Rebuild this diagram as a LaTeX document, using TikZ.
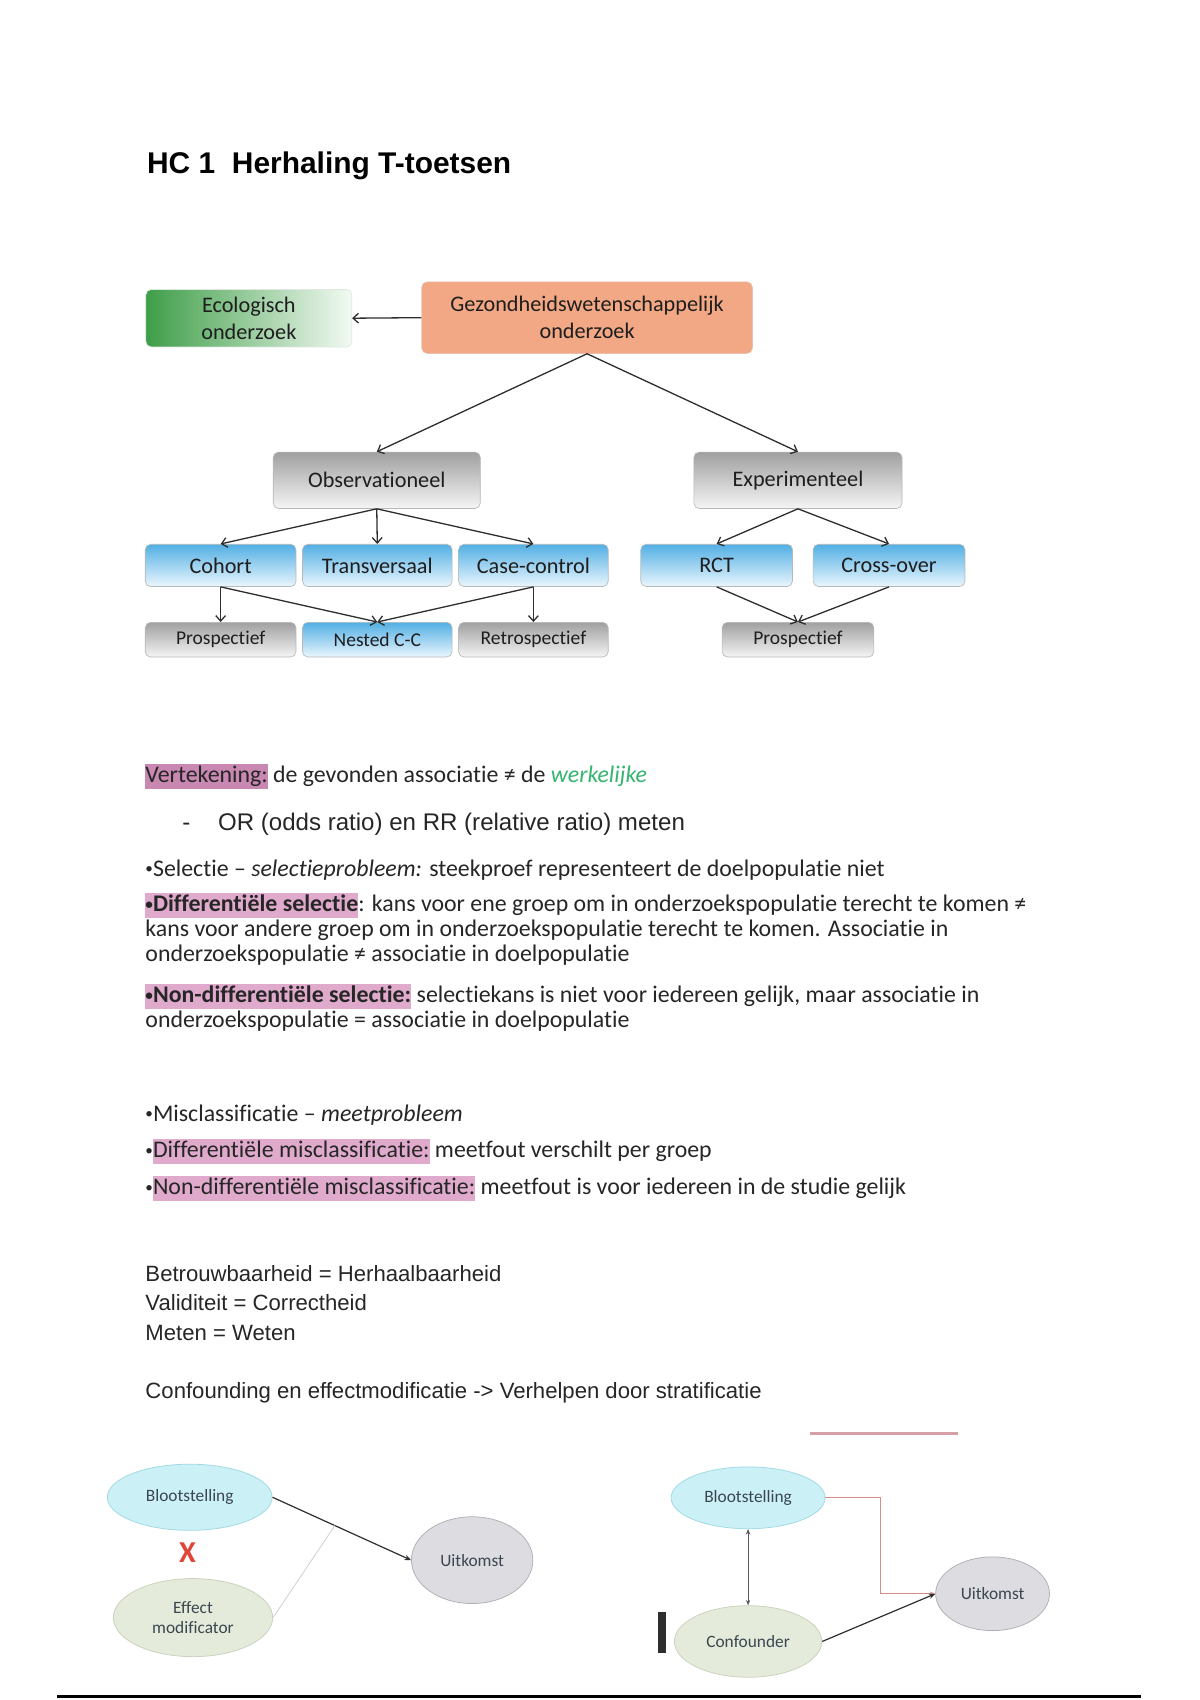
\documentclass[tikz,border=0pt]{standalone}
\usepackage{fontspec}
\setmainfont{Carlito}[Ligatures=NoCommon]
\newfontfamily\arialf{Liberation Sans}
\usetikzlibrary{arrows.meta,shapes.geometric}
\definecolor{txtc}{HTML}{262626}
\definecolor{boxtext}{HTML}{1E1E1E}
\definecolor{boxborder}{HTML}{B8B8B8}
\definecolor{greenL}{HTML}{3E9E48}
\definecolor{greenR}{HTML}{F3FAF3}
\definecolor{salmon}{HTML}{F3A885}
\definecolor{grayTop}{HTML}{A0A0A0}
\definecolor{grayBot}{HTML}{F5F5F5}
\definecolor{blueTop}{HTML}{52AFE4}
\definecolor{blueBot}{HTML}{EAF6FD}
\definecolor{arrowc}{HTML}{2E2E2E}
\definecolor{hlAc}{HTML}{C988B2}
\definecolor{hlBc}{HTML}{DFAACB}
\definecolor{grn}{HTML}{35B56F}
\definecolor{pinkline}{HTML}{D7A0A8}
\definecolor{xred}{HTML}{E0453A}
\definecolor{bfill}{HTML}{CBF1F6}
\definecolor{bdraw}{HTML}{9FD9E3}
\definecolor{gfill}{HTML}{E5EBDA}
\definecolor{gdraw}{HTML}{C9D2BD}
\definecolor{ufill}{HTML}{DDDDE1}
\definecolor{udraw}{HTML}{AFAFB6}
\definecolor{elltext}{HTML}{3A4651}
\definecolor{redc}{HTML}{D98A8A}
\definecolor{lightline}{HTML}{D2D2D2}
\newcommand\hlA[1]{{\setlength{\fboxsep}{0pt}\colorbox{hlAc}{\vrule height 17.5pt depth 5.5pt width 0pt#1}}}
\newcommand\hlB[1]{{\setlength{\fboxsep}{0pt}\colorbox{hlBc}{\vrule height 17.5pt depth 5.5pt width 0pt#1}}}
\newcommand\smbul{\raisebox{2pt}{\fontsize{14}{14}\selectfont •}}
\begin{document}
\begin{tikzpicture}[x=1pt,y=-1pt,
  box/.style={draw=boxborder, line width=0.6pt, rounded corners=5pt, align=center, inner sep=0pt, text=boxtext, font=\fontsize{20.5}{25}\selectfont},
  graybox/.style={box, top color=grayTop, bottom color=grayBot},
  bluebox/.style={box, top color=blueTop, bottom color=blueBot},
  lowtxt/.style={font=\fontsize{18}{20}\selectfont, minimum height=32pt},
  midtxt/.style={minimum height=39pt},
  conn/.style={draw=arrowc, line width=1.2pt, -{Straight Barb[length=5pt,width=9pt]}},
  txt/.style={anchor=base west, inner sep=0pt, text=txtc, font=\fontsize{22}{24}\selectfont},
  atxt/.style={anchor=base west, inner sep=0pt, text=txtc, font=\arialf\fontsize{20.4}{24}\selectfont},
  ell/.style={ellipse, inner sep=0pt, line width=0.7pt, text=elltext, align=center, font=\fontsize{16}{19}\selectfont},
  bell/.style={ell, draw=bdraw, fill=bfill},
  gell/.style={ell, draw=gdraw, fill=gfill},
  uell/.style={ell, draw=udraw, fill=ufill},
  darr/.style={draw=arrowc, line width=1.1pt, -{Stealth[length=6pt,width=5pt]}},
  thinarr/.style={draw=arrowc!80, line width=0.7pt, {Stealth[length=5pt,width=4pt]}-{Stealth[length=5pt,width=4pt]}},
  redarr/.style={draw=redc, line width=0.8pt, -{Stealth[length=5pt,width=4pt,fill=redc]}}
]
\useasboundingbox (0,0) rectangle (1106,1568);
\fill[white] (0,0) rectangle (1106,1568);

% Title
\node[anchor=base west, inner sep=0pt, text=black, font=\arialf\bfseries\fontsize{27.6}{30}\selectfont] (title) at (135.5,160) {HC 1\hspace{0.556em}Herhaling T-toetsen};

% Flowchart
\node[box, left color=greenL, right color=greenR, draw=boxborder!70!greenL!30, minimum width=190pt, minimum height=53pt] (eco) at (229.5,293.5) {Ecologisch\\onderzoek};
\node[box, fill=salmon, draw=salmon!90!black!60, minimum width=305pt, minimum height=66pt] (gez) at (541.5,293) {Gezondheidswetenschappelijk\\onderzoek};
\node[graybox, minimum width=191pt, minimum height=52pt] (obs) at (347.5,443) {Observationeel};
\node[graybox, minimum width=192pt, minimum height=52pt] (exp) at (736,443) {Experimenteel};
\node[bluebox, midtxt, minimum width=139pt] (coh) at (203.5,521.5) {Cohort};
\node[bluebox, midtxt, minimum width=138pt] (tra) at (348,521.5) {Transversaal};
\node[bluebox, midtxt, minimum width=138pt] (cas) at (492,521.5) {Case-control};
\node[bluebox, midtxt, minimum width=140pt] (rct) at (661,521.5) {RCT};
\node[bluebox, midtxt, minimum width=140pt] (cro) at (820,521.5) {Cross-over};
\node[graybox, lowtxt, minimum width=139pt] (pro1) at (203.5,590) {Prospectief};
\node[bluebox, lowtxt, minimum width=138pt] (nes) at (348,590) {Nested C-C};
\node[graybox, lowtxt, minimum width=138pt] (ret) at (492,590) {Retrospectief};
\node[graybox, lowtxt, minimum width=140pt] (pro2) at (736,590) {Prospectief};

\draw[conn] (gez.west) -- (eco.east);
\draw[conn] (gez.south) -- (obs.north);
\draw[conn] (gez.south) -- (exp.north);
\draw[conn] (obs.south) -- (coh.north);
\draw[conn] (obs.south) -- (tra.north);
\draw[conn] (obs.south) -- (cas.north);
\draw[conn] (exp.south) -- (rct.north);
\draw[conn] (exp.south) -- (cro.north);
\draw[conn] (coh.south) -- (pro1.north);
\draw[conn] (coh.south) -- (nes.north);
\draw[conn] (cas.south) -- (nes.north);
\draw[conn] (cas.south) -- (ret.north);
\draw[conn] (rct.south) -- (pro2.north);
\draw[conn] (cro.south) -- (pro2.north);

% Body text
\node[txt] (l1) at (134,722) {\hlA{Vertekening:} de gevonden associatie ≠ de \textcolor{grn}{\itshape werkelijke}};
\node[atxt, font=\arialf\fontsize{22.2}{24}\selectfont] (l2a) at (168,766) {-};
\node[atxt, font=\arialf\fontsize{22.2}{24}\selectfont] (l2b) at (201,766) {OR (odds ratio) en RR (relative ratio) meten};
\node[txt] (l3) at (134,808) {\smbul Selectie – \textit{selectieprobleem:} steekproef representeert de doelpopulatie niet};
\node[txt] (l4) at (134,841) {\hlB{\textbf{\smbul Differentiële selectie}}: kans voor ene groep om in onderzoekspopulatie terecht te komen ≠};
\node[txt] (l5) at (134,864) {kans voor andere groep om in onderzoekspopulatie terecht te komen. Associatie in};
\node[txt] (l6) at (134,887) {onderzoekspopulatie ≠ associatie in doelpopulatie};
\node[txt] (l7) at (134,925) {\hlB{\textbf{\smbul Non-differentiële selectie:}} selectiekans is niet voor iedereen gelijk, maar associatie in};
\node[txt] (l8) at (134,948) {onderzoekspopulatie = associatie in doelpopulatie};
\node[txt] (l9) at (134,1034) {\smbul Misclassificatie – \textit{meetprobleem}};
\node[txt] (l10) at (134,1068) {\smbul\hlB{Differentiële misclassificatie:} meetfout verschilt per groep};
\node[txt] (l11) at (134,1102) {\smbul\hlB{Non-differentiële misclassificatie:} meetfout is voor iedereen in de studie gelijk};
\node[atxt] (l12) at (134,1182) {Betrouwbaarheid = Herhaalbaarheid};
\node[atxt] (l13) at (134,1209) {Validiteit = Correctheid};
\node[atxt] (l14) at (134,1236) {Meten = Weten};
\node[atxt] (l15) at (134,1290) {Confounding en effectmodificatie -> Verhelpen door stratificatie};

% pink rule
\draw[pinkline, line width=3pt] (747,1322) -- (884,1322);

% Left diagram
\node[bell, minimum width=152pt, minimum height=61pt] (b1) at (175,1381) {Blootstelling};
\node[inner sep=0pt, text=xred, font=\bfseries\fontsize{28}{30}\selectfont] (xx) at (173,1432) {X};
\node[gell, minimum width=147pt, minimum height=72pt] (em) at (178,1492) {Effect\\modificator};
\node[uell, minimum width=112pt, minimum height=80pt] (u1) at (435.5,1439) {Uitkomst};
\draw[darr] (b1.east) -- coordinate[pos=0.45] (mid) (u1.west);
\draw[lightline, line width=0.8pt] (em.east) -- (mid);

% Right diagram
\node[bell, minimum width=142pt, minimum height=57pt] (b2) at (690,1381.5) {Blootstelling};
\node[gell, minimum width=136pt, minimum height=66pt] (cf) at (690,1514) {Confounder};
\node[uell, minimum width=105pt, minimum height=68pt] (u2) at (915.5,1470) {Uitkomst};
\node[fill=arrowc, inner sep=0pt, minimum width=7pt, minimum height=38pt] (bar) at (610.5,1506) {};
\coordinate (rc) at (812,1381.5);
\draw[redarr] (b2.east) -- (rc) |- (u2.west);
\draw[thinarr] (b2.south) -- (cf.north);
\draw[darr] (cf.east) -- (u2.west);

% bottom rule
\draw[black, line width=2.5pt] (53,1565) -- (1052,1565);
\end{tikzpicture}
\end{document}
